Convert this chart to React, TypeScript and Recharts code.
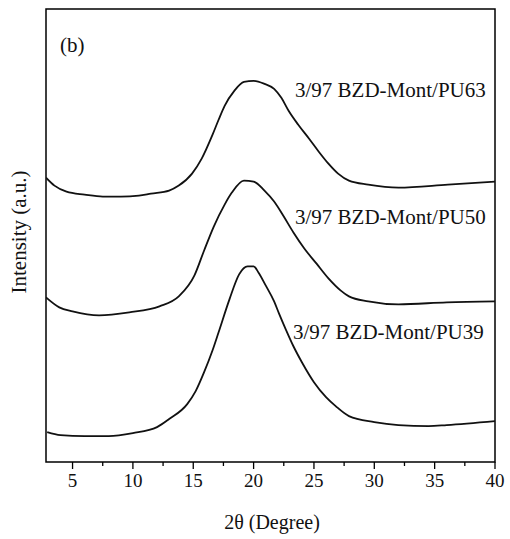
import React from "react";
import { LineChart, Line, XAxis, YAxis, ReferenceArea } from "recharts";

// 2θ positions (degrees) and intensities (a.u., stacked offsets)
const PU63_X = [2.8, 3.5, 4.5, 6, 7.5, 9, 10.5, 11.5, 13, 13.8, 14.9, 15.7, 16.6, 17.1, 17.6, 18.4, 19.2, 20.0, 20.9, 21.7, 22.3, 22.9, 23.7, 24.6, 25.4, 26.2, 27.0, 27.9, 29.5, 32, 36.1, 40];
const PU63_Y = [285, 277, 271, 268, 266, 266, 267, 269, 272, 277, 289, 304, 328, 343, 357, 372, 381, 382, 379, 374, 365, 352, 338, 324, 311, 299, 289, 282, 278, 275, 278, 281];

const PU50_X = [2.8, 3.9, 5, 7.2, 9.7, 12.2, 13.8, 15.1, 15.9, 16.7, 17.6, 18.2, 19.2, 20.0, 20.9, 21.7, 22.5, 23.3, 24.2, 25.2, 26.2, 27.2, 27.9, 29.5, 32, 36, 40];
const PU50_Y = [165, 155, 151, 147, 150, 156, 166, 187, 212, 236, 258, 270, 282, 281, 272, 261, 246, 230, 214, 199, 184, 172, 166, 161, 158, 160, 161];

const PU39_X = [2.9, 4, 6, 8, 10, 12, 13, 14.5, 15.2, 15.9, 16.6, 17.1, 18.0, 18.8, 19.5, 20.0, 20.4, 21.0, 21.7, 22.1, 22.7, 23.3, 24.0, 25.0, 26.0, 26.8, 27.9, 30, 32, 34.5, 36, 40];
const PU39_Y = [30, 27, 26, 26, 29, 35, 43, 58, 71, 90, 112, 130, 163, 188, 196, 196, 190, 177, 161, 149, 132, 116, 100, 80, 65, 56, 46, 40, 37, 36, 37, 41];

const X_TICKS = [5, 7.5, 10, 12.5, 15, 17.5, 20, 22.5, 25, 27.5, 30, 32.5, 35, 37.5, 40];
const SERIES_LABELS = ["3/97 BZD-Mont/PU63", "3/97 BZD-Mont/PU50", "3/97 BZD-Mont/PU39"];

const toPoints = (xs: number[], ys: number[]) => xs.map((x, i) => ({ x, y: ys[i] }));

const pu63 = toPoints(PU63_X, PU63_Y);
const pu50 = toPoints(PU50_X, PU50_Y);
const pu39 = toPoints(PU39_X, PU39_Y);

const FONT = "'Liberation Serif', 'Times New Roman', serif";

const renderTick = (props: any) => {
  const { x, y, payload } = props;
  const v = payload.value;
  const major = v % 5 === 0;
  return (
    <g>
      <line x1={x} x2={x} y1={y} y2={y + (major ? 7 : 4)} stroke="#000" strokeWidth={1.3} />
      {major && (
        <text x={x} y={y + 25} textAnchor="middle" fontSize={19} fontFamily={FONT} fill="#111">
          {v}
        </text>
      )}
    </g>
  );
};

export default function App() {
  return (
    <div style={{ position: "absolute", left: 0, top: 0, width: 510, height: 539, background: "#fff" }}>
      <LineChart
        width={510}
        height={539}
        margin={{ top: 9, right: 15, left: 46, bottom: 37 }}
      >
        <XAxis
          type="number"
          dataKey="x"
          domain={[2.8, 40]}
          ticks={X_TICKS}
          interval={0}
          height={40}
          tickSize={0}
          tickMargin={0}
          tickLine={false}
          axisLine={false}
          tick={renderTick}
          allowDataOverflow
        />
        <YAxis type="number" dataKey="y" domain={[0, 454]} hide allowDataOverflow />
        <Line data={pu63} dataKey="y" type="monotone" stroke="#111" strokeWidth={1.8} dot={false} isAnimationActive={false} />
        <Line data={pu50} dataKey="y" type="monotone" stroke="#111" strokeWidth={1.8} dot={false} isAnimationActive={false} />
        <Line data={pu39} dataKey="y" type="monotone" stroke="#111" strokeWidth={1.8} dot={false} isAnimationActive={false} />
        <ReferenceArea x1={2.8} x2={40} y1={0} y2={454} fill="none" stroke="#000" strokeWidth={1.5} ifOverflow="visible" />
      </LineChart>
      <svg
        width={510}
        height={539}
        style={{ position: "absolute", left: 0, top: 0, pointerEvents: "none" }}
        fontFamily={FONT}
        fill="#111"
      >
        <text x={60} y={52} fontSize={21}>(b)</text>
        <text x={295} y={97} fontSize={21}>{SERIES_LABELS[0]}</text>
        <text x={295} y={224} fontSize={21}>{SERIES_LABELS[1]}</text>
        <text x={293} y={339} fontSize={21}>{SERIES_LABELS[2]}</text>
        <text x={272} y={529} fontSize={20} textAnchor="middle">2θ (Degree)</text>
        <text x={26} y={232} fontSize={21} textAnchor="middle" transform="rotate(-90, 26, 232)">
          Intensity (a.u.)
        </text>
      </svg>
    </div>
  );
}
